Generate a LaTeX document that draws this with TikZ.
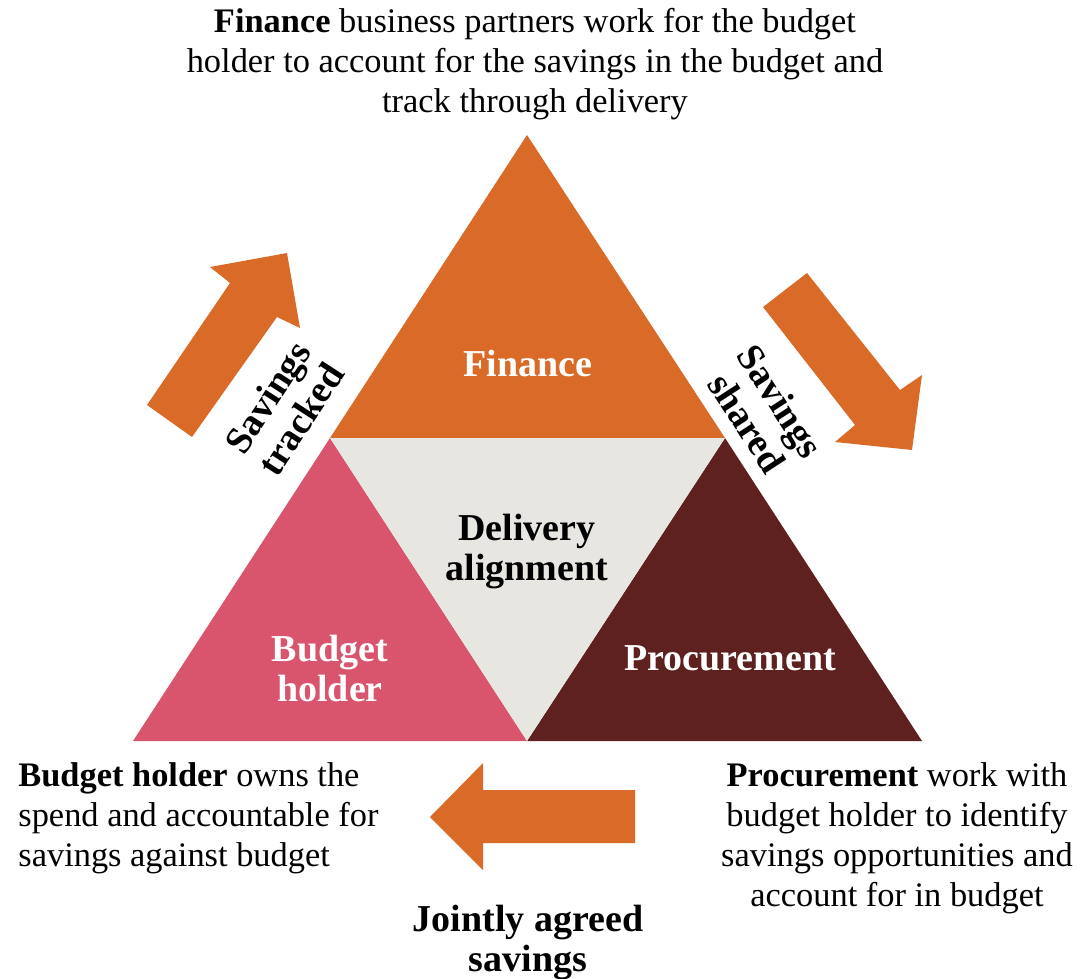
\documentclass[tikz,border=0pt]{standalone}
\usepackage{fontspec}
\setmainfont{Liberation Serif}
\begin{document}
\begin{tikzpicture}[x=0.5pt,y=-0.5pt,
  txt/.style={font=\fontsize{17.2}{20}\selectfont, inner sep=0pt},
  lbl/.style={font=\fontsize{19}{20}\selectfont\bfseries, inner sep=0pt, align=center},
  blockarrow/.style={fill=arroworange},
]
\definecolor{arroworange}{HTML}{DA6A27}
\definecolor{financeorange}{HTML}{DA6A27}
\definecolor{budgetpink}{HTML}{D9546D}
\definecolor{procbrown}{HTML}{5E2120}
\definecolor{deliverygrey}{HTML}{E8E6E1}
\useasboundingbox (0,0) rectangle (1086,979);

% corner points of the big triangle and the midpoints of its sides
\coordinate (apex) at (527,135);
\coordinate (ml) at (330,438);
\coordinate (mr) at (725,438);
\coordinate (bl) at (133,741);
\coordinate (bm) at (527,741);
\coordinate (br) at (922,741);

% the four triangles
\fill[financeorange] (apex) -- (ml) -- (mr) -- cycle;
\fill[budgetpink] (ml) -- (bl) -- (bm) -- cycle;
\fill[procbrown] (mr) -- (bm) -- (br) -- cycle;
\fill[deliverygrey] (ml) -- (mr) -- (bm) -- cycle;

% block arrows
\fill[blockarrow] (147,405) -- (230,283) -- (210,267) -- (287,253)
  -- (300,328) -- (277,317) -- (192,437) -- cycle;
\fill[blockarrow] (807,273) -- (900,390) -- (922,375) -- (912,450)
  -- (835,442) -- (855,425) -- (763,307) -- cycle;
\fill[blockarrow] (635,790) -- (483,790) -- (483,763) -- (430,817)
  -- (483,870) -- (483,843) -- (635,843) -- cycle;

% labels inside the triangles
\node[lbl, text=white] (fin) at (528,363) {Finance};
\node[lbl, text=black] (del) at (527,552) {Delivery\\alignment};
\node[lbl, text=white] (bud) at (330,668) {Budget\\holder};
\node[lbl, text=white] (proc) at (730,658) {Procurement};

% rotated labels along the upper edges
\node[lbl, rotate=57] (track) at (284,408) {Savings\\tracked};
\node[lbl, rotate=-57] (share) at (764,412) {Savings\\shared};

% descriptive texts
\node[txt, align=center] (topt) at (535,64)
  {\textbf{Finance} business partners work for the budget\\holder to account for the savings in the budget and\\track through delivery};
\node[txt, align=left, anchor=west] (leftt) at (18,818)
  {\textbf{Budget holder} owns the\\spend and accountable for\\savings against budget};
\node[txt, align=center] (rightt) at (897,838)
  {\textbf{Procurement} work with\\budget holder to identify\\savings opportunities and\\account for in budget};
\node[lbl] (joint) at (528,942) {Jointly agreed\\savings};
\end{tikzpicture}
\end{document}
